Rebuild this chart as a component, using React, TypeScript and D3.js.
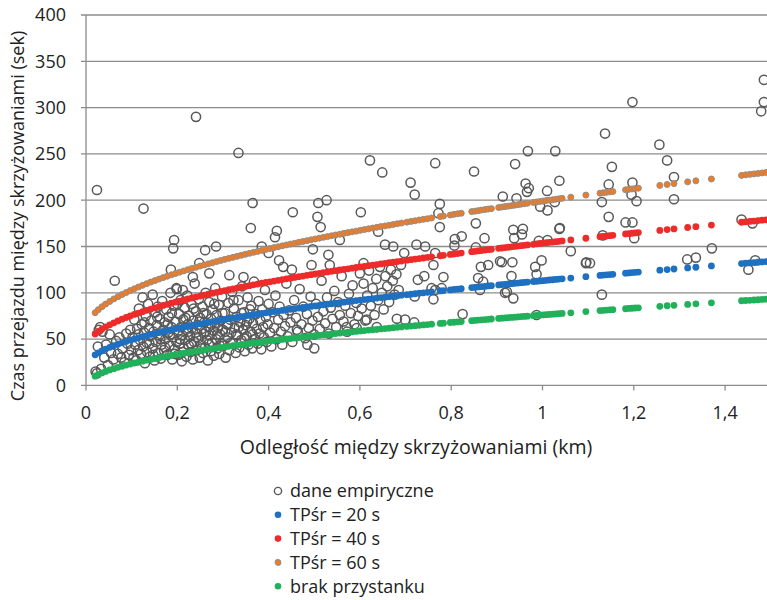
import { useEffect, useRef } from 'react';
import * as d3 from 'd3';

const xTicks = [0, 0.2, 0.4, 0.6, 0.8, 1, 1.2, 1.4, 1.6];
const xTickLabels = ['0', '0,2', '0,4', '0,6', '0,8', '1', '1,2', '1,4'];
const yTicks = [0, 50, 100, 150, 200, 250, 300, 350, 400];

// dane empiryczne: [odległość km, czas s]
const daneEmpiryczne: [number, number][] = [
  [0.021, 15], [0.024, 13], [0.026, 42], [0.028, 60], [0.031, 63], [0.033, 18], [0.036, 58], [0.040, 30],
  [0.044, 44], [0.048, 22], [0.052, 55], [0.055, 35], [0.060, 28], [0.066, 48], [0.070, 34], [0.073, 52],
  [0.077, 30], [0.080, 40], [0.084, 25], [0.088, 56], [0.091, 45], [0.094, 33], [0.097, 60], [0.099, 38],
  [0.102, 52], [0.104, 30], [0.106, 71], [0.108, 44], [0.110, 27], [0.112, 61], [0.114, 38], [0.116, 83],
  [0.118, 49], [0.120, 34], [0.122, 66], [0.125, 42], [0.127, 57], [0.129, 24], [0.131, 75], [0.133, 46],
  [0.134, 36], [0.136, 88], [0.138, 62], [0.140, 31], [0.141, 53], [0.143, 70], [0.146, 40], [0.148, 58],
  [0.150, 27], [0.152, 79], [0.153, 47], [0.155, 65], [0.158, 35], [0.160, 54], [0.162, 72], [0.164, 29],
  [0.165, 44], [0.167, 91], [0.169, 60], [0.171, 38], [0.172, 68], [0.174, 50], [0.176, 82], [0.178, 33],
  [0.180, 57], [0.181, 74], [0.183, 43], [0.185, 100], [0.187, 63], [0.189, 28], [0.190, 52], [0.192, 86],
  [0.194, 39], [0.196, 69], [0.198, 47], [0.199, 104], [0.201, 58], [0.202, 33], [0.204, 77], [0.205, 45],
  [0.207, 92], [0.208, 63], [0.210, 26], [0.211, 54], [0.213, 71], [0.214, 40], [0.216, 84], [0.217, 49],
  [0.219, 60], [0.220, 31], [0.222, 97], [0.223, 66], [0.225, 43], [0.226, 75], [0.228, 53], [0.229, 36],
  [0.231, 88], [0.232, 62], [0.234, 28], [0.235, 70], [0.237, 47], [0.238, 110], [0.240, 57], [0.241, 80],
  [0.243, 38], [0.244, 65], [0.246, 51], [0.247, 93], [0.249, 30], [0.250, 73], [0.252, 44], [0.253, 61],
  [0.255, 85], [0.256, 35], [0.258, 56], [0.259, 68], [0.261, 41], [0.262, 100], [0.264, 77], [0.265, 49],
  [0.267, 27], [0.268, 63], [0.270, 90], [0.271, 54], [0.273, 37], [0.274, 72], [0.276, 46], [0.277, 82],
  [0.279, 59], [0.280, 32], [0.282, 67], [0.283, 105], [0.285, 50], [0.286, 76], [0.288, 40], [0.289, 62],
  [0.291, 87], [0.292, 34], [0.294, 55], [0.295, 70], [0.297, 45], [0.298, 96], [0.300, 60], [0.302, 43],
  [0.304, 78], [0.306, 30], [0.308, 66], [0.310, 52], [0.312, 89], [0.314, 38], [0.316, 71], [0.318, 57],
  [0.320, 101], [0.322, 46], [0.324, 83], [0.326, 62], [0.328, 35], [0.330, 74], [0.332, 54], [0.334, 92],
  [0.336, 41], [0.338, 68], [0.340, 49], [0.342, 107], [0.344, 60], [0.346, 79], [0.348, 37], [0.350, 65],
  [0.352, 53], [0.354, 95], [0.356, 44], [0.358, 72], [0.360, 58], [0.362, 86], [0.364, 40], [0.366, 67],
  [0.368, 112], [0.370, 50], [0.372, 77], [0.374, 61], [0.376, 45], [0.378, 91], [0.380, 56], [0.382, 70],
  [0.384, 39], [0.386, 82], [0.388, 63], [0.390, 52], [0.392, 103], [0.394, 74], [0.396, 47], [0.398, 66],
  [0.400, 88], [0.403, 57], [0.406, 42], [0.409, 79], [0.412, 62], [0.415, 97], [0.418, 50], [0.421, 71],
  [0.424, 85], [0.427, 58], [0.430, 44], [0.433, 76], [0.436, 64], [0.439, 110], [0.442, 53], [0.445, 81],
  [0.448, 68], [0.452, 47], [0.456, 92], [0.460, 73], [0.464, 58], [0.468, 104], [0.472, 66], [0.476, 85],
  [0.480, 51], [0.484, 77], [0.488, 62], [0.492, 96], [0.496, 70], [0.500, 55], [0.504, 88], [0.508, 74],
  [0.512, 61], [0.516, 113], [0.520, 80], [0.524, 67], [0.528, 95], [0.532, 56], [0.536, 84], [0.540, 72],
  [0.544, 102], [0.548, 63], [0.552, 90], [0.556, 76], [0.560, 118], [0.564, 69], [0.568, 86], [0.572, 58],
  [0.576, 99], [0.580, 78], [0.584, 108], [0.588, 66], [0.592, 89], [0.596, 75], [0.600, 121], [0.604, 83],
  [0.608, 110], [0.612, 70], [0.616, 97], [0.620, 124], [0.624, 86], [0.628, 105], [0.632, 76], [0.636, 115],
  [0.640, 92], [0.644, 128], [0.648, 100], [0.652, 82], [0.656, 118], [0.660, 107], [0.664, 90], [0.668, 125],
  [0.672, 113], [0.676, 98], [0.680, 120], [0.685, 103], [0.690, 130],
  [0.115, 55], [0.128, 68], [0.139, 45], [0.147, 33], [0.156, 74], [0.163, 50], [0.173, 41], [0.179, 66],
  [0.184, 55], [0.188, 78], [0.195, 34], [0.200, 88], [0.206, 50], [0.212, 36], [0.218, 73], [0.224, 58],
  [0.230, 45], [0.236, 83], [0.242, 52], [0.248, 69], [0.254, 40], [0.257, 78], [0.263, 58], [0.269, 45],
  [0.275, 66], [0.281, 88], [0.287, 55], [0.293, 43], [0.299, 78], [0.305, 58], [0.311, 66], [0.317, 46],
  [0.323, 92], [0.329, 55], [0.335, 63], [0.341, 78], [0.347, 51], [0.353, 69], [0.359, 82], [0.365, 55],
  [0.024, 211], [0.126, 191], [0.193, 157], [0.191, 148], [0.261, 146], [0.285, 150], [0.063, 113], [0.186, 125],
  [0.248, 132], [0.270, 121], [0.314, 119], [0.234, 117], [0.124, 95], [0.146, 98], [0.198, 105], [0.212, 103],
  [0.157, 85], [0.241, 290], [0.334, 251], [0.622, 243], [0.649, 230], [0.365, 197], [0.509, 197], [0.527, 200],
  [0.453, 187], [0.507, 182], [0.602, 187], [0.361, 170], [0.418, 167], [0.414, 160], [0.514, 171], [0.640, 166],
  [0.385, 150], [0.400, 143], [0.497, 147], [0.531, 141], [0.556, 157], [0.655, 152], [0.673, 150], [0.423, 135],
  [0.432, 128], [0.451, 125], [0.345, 117], [0.494, 130], [0.608, 132], [0.534, 130], [0.485, 44], [0.500, 40],
  [0.462, 60], [0.571, 63], [0.593, 62], [0.615, 71], [0.637, 63], [0.681, 72],
  [0.968, 253], [1.028, 253], [0.765, 240], [0.850, 231], [0.940, 239], [0.711, 219], [0.720, 206], [1.037, 221],
  [0.963, 218], [0.970, 213], [0.966, 209], [1.010, 210], [0.913, 204], [0.943, 202], [0.775, 196], [0.995, 193],
  [1.011, 189], [1.027, 198], [0.772, 186], [0.775, 171], [0.854, 175], [0.936, 168], [0.957, 169], [0.955, 163],
  [0.938, 159], [1.037, 169], [0.808, 158], [0.823, 161], [0.807, 151], [0.873, 159], [0.992, 156], [1.011, 157],
  [0.724, 152], [0.743, 150], [0.854, 149], [1.062, 145], [0.765, 143], [0.697, 143], [1.095, 132], [1.096, 133],
  [0.998, 135], [0.984, 128], [0.987, 120], [0.911, 133], [0.934, 133], [0.865, 128], [0.881, 130], [0.761, 130],
  [0.932, 118], [0.859, 116], [0.870, 112], [0.783, 117], [0.741, 118], [0.727, 114], [0.765, 103], [0.757, 105],
  [0.863, 103], [0.918, 100], [0.936, 94], [0.720, 96], [0.761, 93], [0.779, 105], [0.825, 77], [0.699, 71],
  [0.719, 68], [0.987, 76], [0.922, 101], [0.907, 134],
  [1.485, 330], [1.485, 306], [1.479, 296], [1.197, 306], [1.137, 272], [1.256, 260], [1.273, 243], [1.152, 236],
  [1.145, 217], [1.197, 219], [1.288, 225], [1.195, 206], [1.206, 199], [1.130, 198], [1.288, 201], [1.145, 182],
  [1.182, 176], [1.197, 176], [1.436, 179], [1.460, 175], [1.132, 162], [1.201, 159], [1.371, 148], [1.317, 136],
  [1.336, 138], [1.451, 125], [1.466, 135], [1.104, 132], [1.130, 98], [1.038, 170],
];

// odległości, dla których policzono krzywe modelowe
const odlegloscModel = [
  0.020, 0.027, 0.035, 0.043, 0.052, 0.061, 0.070, 0.079, 0.088, 0.097, 0.106, 0.115, 0.124, 0.133, 0.142, 0.151,
  0.160, 0.169, 0.178, 0.187, 0.196, 0.205, 0.214, 0.223, 0.232, 0.241, 0.250, 0.259, 0.268, 0.277, 0.286, 0.295,
  0.304, 0.313, 0.322, 0.331, 0.340, 0.349, 0.358, 0.367, 0.376, 0.385, 0.394, 0.403, 0.412, 0.421, 0.430, 0.439,
  0.448, 0.457, 0.466, 0.475, 0.484, 0.493, 0.502, 0.511, 0.520, 0.529, 0.538, 0.547, 0.556, 0.565, 0.574, 0.583,
  0.592, 0.601, 0.610, 0.619, 0.628, 0.637, 0.646, 0.655, 0.664, 0.673, 0.682, 0.691,
  0.703, 0.712, 0.721, 0.730, 0.739, 0.748, 0.757, 0.776, 0.783, 0.798, 0.806, 0.814, 0.822, 0.845, 0.852, 0.859,
  0.866, 0.874, 0.881, 0.888, 0.904, 0.911, 0.918, 0.925, 0.932, 0.939, 0.946, 0.953, 0.960, 0.967, 0.980, 0.987,
  0.994, 1.001, 1.008, 1.015, 1.022, 1.029, 1.036, 1.043, 1.062, 1.095, 1.126, 1.133, 1.140, 1.147, 1.154, 1.182,
  1.189, 1.196, 1.203, 1.210, 1.257, 1.273, 1.288, 1.318, 1.336, 1.370, 1.436, 1.445, 1.454, 1.463, 1.472, 1.481,
  1.490, 1.505,
];

const tpSr20 = [
  33.0, 35.1, 37.3, 39.2, 41.1, 42.8, 44.5, 46.0, 47.5, 48.9, 50.2, 51.4, 52.7, 53.8, 55.0, 56.1,
  57.1, 58.2, 59.2, 60.1, 61.1, 62.0, 63.0, 63.9, 64.7, 65.6, 66.5, 67.3, 68.1, 68.9, 69.7, 70.5,
  71.2, 72.0, 72.7, 73.5, 74.2, 74.9, 75.6, 76.3, 77.0, 77.7, 78.4, 79.0, 79.7, 80.3, 81.0, 81.6,
  82.2, 82.9, 83.5, 84.1, 84.7, 85.3, 85.9, 86.5, 87.1, 87.7, 88.2, 88.8, 89.4, 89.9, 90.5, 91.0,
  91.6, 92.1, 92.7, 93.2, 93.7, 94.3, 94.8, 95.3, 95.8, 96.3, 96.8, 97.4,
  98.0, 98.5, 99.0, 99.5, 100.0, 100.5, 101.0, 102.0, 102.4, 103.1, 103.6, 104.0, 104.4, 105.6, 105.9, 106.3,
  106.6, 107.0, 107.4, 107.7, 108.5, 108.9, 109.2, 109.5, 109.9, 110.2, 110.5, 110.9, 111.2, 111.6, 112.2, 112.5,
  112.8, 113.1, 113.5, 113.8, 114.1, 114.4, 114.8, 115.1, 115.9, 117.4, 118.8, 119.1, 119.4, 119.7, 120.0, 121.2,
  121.5, 121.8, 122.1, 122.4, 124.4, 125.1, 125.7, 126.9, 127.6, 129.0, 131.6, 132.0, 132.3, 132.6, 133.0, 133.3,
  133.7, 134.3,
];

const tpSr40 = [
  55.5, 58.2, 60.8, 63.1, 65.4, 67.6, 69.6, 71.5, 73.3, 75.0, 76.6, 78.1, 79.6, 81.1, 82.4, 83.8,
  85.1, 86.4, 87.6, 88.8, 90.0, 91.1, 92.2, 93.3, 94.4, 95.5, 96.5, 97.5, 98.5, 99.5, 100.5, 101.4,
  102.4, 103.3, 104.2, 105.1, 106.0, 106.9, 107.7, 108.6, 109.4, 110.3, 111.1, 111.9, 112.7, 113.5, 114.3, 115.1,
  115.8, 116.6, 117.4, 118.1, 118.9, 119.6, 120.3, 121.0, 121.8, 122.5, 123.2, 123.9, 124.6, 125.2, 125.9, 126.6,
  127.3, 127.9, 128.6, 129.3, 129.9, 130.5, 131.2, 131.8, 132.5, 133.1, 133.7, 134.3,
  135.2, 135.8, 136.4, 137.0, 137.6, 138.2, 138.8, 140.0, 140.5, 141.4, 141.9, 142.4, 142.9, 144.4, 144.8, 145.2,
  145.7, 146.2, 146.6, 147.0, 148.0, 148.4, 148.8, 149.2, 149.6, 150.1, 150.5, 150.9, 151.3, 151.7, 152.4, 152.9,
  153.3, 153.7, 154.1, 154.5, 154.8, 155.2, 155.6, 156.0, 157.1, 158.9, 160.6, 161.0, 161.3, 161.7, 162.1, 163.6,
  163.9, 164.3, 164.7, 165.0, 167.4, 168.3, 169.0, 170.5, 171.4, 173.1, 176.2, 176.7, 177.1, 177.5, 178.0, 178.4,
  178.8, 179.5,
];

const tpSr60 = [
  78.5, 81.8, 85.0, 87.8, 90.7, 93.4, 95.8, 98.1, 100.3, 102.4, 104.4, 106.3, 108.1, 109.9, 111.6, 113.2,
  114.8, 116.4, 117.9, 119.4, 120.8, 122.2, 123.6, 125.0, 126.3, 127.6, 128.9, 130.1, 131.3, 132.5, 133.7, 134.9,
  136.1, 137.2, 138.3, 139.4, 140.5, 141.6, 142.6, 143.7, 144.7, 145.8, 146.8, 147.8, 148.8, 149.7, 150.7, 151.7,
  152.6, 153.5, 154.5, 155.4, 156.3, 157.2, 158.1, 159.0, 159.9, 160.7, 161.6, 162.5, 163.3, 164.2, 165.0, 165.8,
  166.6, 167.5, 168.3, 169.1, 169.9, 170.7, 171.5, 172.2, 173.0, 173.8, 174.6, 175.3,
  176.3, 177.1, 177.8, 178.6, 179.3, 180.0, 180.8, 182.3, 182.9, 184.0, 184.7, 185.3, 185.9, 187.7, 188.2, 188.7,
  189.3, 189.9, 190.4, 190.9, 192.1, 192.6, 193.1, 193.6, 194.1, 194.6, 195.2, 195.7, 196.2, 196.7, 197.6, 198.1,
  198.6, 199.1, 199.6, 200.1, 200.5, 201.0, 201.5, 202.0, 203.3, 205.5, 207.6, 208.0, 208.5, 209.0, 209.4, 211.2,
  211.7, 212.1, 212.6, 213.0, 216.0, 217.0, 217.9, 219.8, 220.9, 222.9, 226.8, 227.4, 227.9, 228.4, 228.9, 229.4,
  230.0, 230.8,
];

const brakPrzystanku = [
  10.0, 11.8, 13.5, 15.1, 16.7, 18.1, 19.5, 20.7, 21.9, 23.1, 24.2, 25.2, 26.2, 27.2, 28.1, 29.0,
  29.9, 30.8, 31.6, 32.4, 33.2, 34.0, 34.7, 35.5, 36.2, 36.9, 37.6, 38.3, 39.0, 39.6, 40.3, 40.9,
  41.6, 42.2, 42.8, 43.4, 44.0, 44.6, 45.2, 45.7, 46.3, 46.9, 47.4, 48.0, 48.5, 49.1, 49.6, 50.1,
  50.6, 51.2, 51.7, 52.2, 52.7, 53.2, 53.7, 54.1, 54.6, 55.1, 55.6, 56.0, 56.5, 57.0, 57.4, 57.9,
  58.3, 58.8, 59.2, 59.7, 60.1, 60.6, 61.0, 61.4, 61.8, 62.3, 62.7, 63.1,
  63.7, 64.1, 64.5, 64.9, 65.3, 65.7, 66.1, 66.9, 67.2, 67.9, 68.2, 68.6, 68.9, 69.9, 70.2, 70.5,
  70.8, 71.1, 71.4, 71.7, 72.3, 72.6, 72.9, 73.2, 73.4, 73.7, 74.0, 74.3, 74.5, 74.8, 75.3, 75.6,
  75.9, 76.1, 76.4, 76.7, 76.9, 77.2, 77.5, 77.7, 78.4, 79.7, 80.8, 81.1, 81.3, 81.6, 81.8, 82.8,
  83.1, 83.3, 83.6, 83.8, 85.4, 86.0, 86.5, 87.5, 88.1, 89.2, 91.4, 91.7, 91.9, 92.2, 92.5, 92.8,
  93.1, 93.6,
];

const modelSeries = [
  { label: 'TPśr = 20 s', values: tpSr20, fill: '#1f70c1', stroke: 'none' },
  { label: 'TPśr = 40 s', values: tpSr40, fill: '#ee2b2b', stroke: 'none' },
  { label: 'TPśr = 60 s', values: tpSr60, fill: '#f47a1f', stroke: '#8f8f8f' },
  { label: 'brak przystanku', values: brakPrzystanku, fill: '#22b15b', stroke: 'none' },
];

const FONT = "'Open Sans', sans-serif";
const TEXT = '#222';
const GRID = '#8c8c8c';

const App = () => {
  const ref = useRef<SVGSVGElement>(null);

  useEffect(() => {
    const svg = d3.select(ref.current);
    svg.selectAll('*').remove();

    const x = d3.scaleLinear().domain([0, 1.6]).range([86, 86 + 456.5 * 1.6]);
    const y = d3.scaleLinear().domain([0, 400]).range([385.4, 15]);

    // siatka pozioma
    svg
      .append('g')
      .selectAll('line')
      .data(yTicks)
      .enter()
      .append('line')
      .attr('x1', 81)
      .attr('x2', 767)
      .attr('y1', d => y(d))
      .attr('y2', d => y(d))
      .attr('stroke', GRID)
      .attr('stroke-width', 1.3);

    // oś Y
    svg
      .append('line')
      .attr('x1', x(0))
      .attr('x2', x(0))
      .attr('y1', y(400))
      .attr('y2', y(0))
      .attr('stroke', GRID)
      .attr('stroke-width', 1.3);

    svg
      .append('g')
      .selectAll('text')
      .data(yTicks)
      .enter()
      .append('text')
      .attr('x', 66)
      .attr('y', d => y(d))
      .attr('dy', '0.35em')
      .attr('text-anchor', 'end')
      .style('font-family', FONT)
      .style('font-size', '18px')
      .style('fill', TEXT)
      .text(d => d);

    // oś X - znaczniki
    svg
      .append('g')
      .selectAll('line')
      .data(xTicks)
      .enter()
      .append('line')
      .attr('x1', d => x(d))
      .attr('x2', d => x(d))
      .attr('y1', y(0))
      .attr('y2', y(0) + 5)
      .attr('stroke', GRID)
      .attr('stroke-width', 1.3);

    svg
      .append('g')
      .selectAll('text')
      .data(xTickLabels)
      .enter()
      .append('text')
      .attr('x', (d, i) => x(xTicks[i]))
      .attr('y', 419)
      .attr('text-anchor', 'middle')
      .style('font-family', FONT)
      .style('font-size', '18px')
      .style('fill', TEXT)
      .text(d => d);

    // tytuły osi
    svg
      .append('text')
      .attr('x', 416)
      .attr('y', 454)
      .attr('text-anchor', 'middle')
      .style('font-family', FONT)
      .style('font-size', '19.5px')
      .style('fill', TEXT)
      .text('Odległość między skrzyżowaniami (km)');

    svg
      .append('text')
      .attr('transform', 'translate(24, 216) rotate(-90)')
      .attr('text-anchor', 'middle')
      .style('font-family', FONT)
      .style('font-size', '18px')
      .style('fill', TEXT)
      .text('Czas przejazdu między skrzyżowaniami (sek)');

    // dane empiryczne - puste kółka
    svg
      .append('g')
      .selectAll('circle')
      .data(daneEmpiryczne)
      .enter()
      .append('circle')
      .attr('cx', d => x(d[0]))
      .attr('cy', d => y(d[1]))
      .attr('r', 4.6)
      .attr('fill', 'none')
      .attr('stroke', '#595959')
      .attr('stroke-width', 1.5);

    // krzywe modelowe jako punkty
    modelSeries.forEach(s => {
      const pts = odlegloscModel
        .map((d, i) => [d, s.values[i]])
        .filter(p => p[1] !== undefined);
      svg
        .append('g')
        .selectAll('circle')
        .data(pts)
        .enter()
        .append('circle')
        .attr('cx', d => x(d[0]))
        .attr('cy', d => y(d[1]))
        .attr('r', s.stroke === 'none' ? 3.4 : 3.0)
        .attr('fill', s.fill)
        .attr('stroke', s.stroke)
        .attr('stroke-width', s.stroke === 'none' ? 0 : 1.0);
    });

    // legenda
    const legendItems = [
      { label: 'dane empiryczne', fill: 'none', stroke: '#595959', r: 3.6, sw: 1.4 },
      ...modelSeries.map(s => ({
        label: s.label,
        fill: s.fill,
        stroke: s.stroke,
        r: s.stroke === 'none' ? 3.3 : 2.8,
        sw: s.stroke === 'none' ? 0 : 1.1,
      })),
    ];

    const legend = svg.append('g').attr('transform', 'translate(278, 491)');
    legend
      .selectAll('circle')
      .data(legendItems)
      .enter()
      .append('circle')
      .attr('cx', 0)
      .attr('cy', (d, i) => i * 23.8)
      .attr('r', d => d.r)
      .attr('fill', d => d.fill)
      .attr('stroke', d => d.stroke)
      .attr('stroke-width', d => d.sw);

    legend
      .selectAll('text')
      .data(legendItems)
      .enter()
      .append('text')
      .attr('x', 12)
      .attr('y', (d, i) => i * 23.8)
      .attr('dy', '0.35em')
      .style('font-family', FONT)
      .style('font-size', '18px')
      .style('fill', TEXT)
      .text(d => d.label);
  }, []);

  return (
    <svg
      ref={ref}
      width={767}
      height={600}
      style={{ position: 'absolute', left: 0, top: 0, background: '#fff' }}
    />
  );
};

export default App;
